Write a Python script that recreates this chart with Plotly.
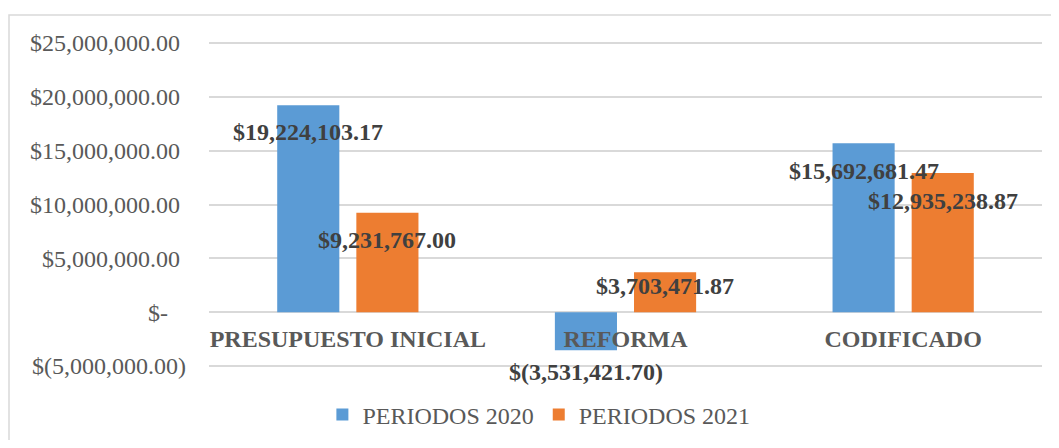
import plotly.graph_objects as go

categories = ["PRESUPUESTO INICIAL", "REFORMA", "CODIFICADO"]
series_names = ["PERIODOS 2020", "PERIODOS 2021"]
values_2020 = [19224103.17, -3531421.70, 15692681.47]
values_2021 = [9231767.00, 3703471.87, 12935238.87]
labels_2020 = ["$19,224,103.17", "$(3,531,421.70)", "$15,692,681.47"]
labels_2021 = ["$9,231,767.00", "$3,703,471.87", "$12,935,238.87"]
tick_vals = [-5000000, 0, 5000000, 10000000, 15000000, 20000000, 25000000]
tick_text = ["$(5,000,000.00)", "$-\u00a0\u00a0\u00a0", "$5,000,000.00\u00a0", "$10,000,000.00\u00a0",
             "$15,000,000.00\u00a0", "$20,000,000.00\u00a0", "$25,000,000.00\u00a0"]

colors = ["#5B9BD5", "#ED7D31"]
FONT = "Liberation Serif, Times New Roman, serif"
FS = 24
ymin, ymax = -5000000, 25000000
bargap = 0.43
bargroupgap = 0.215

# figure is placed with the page's 8px body margin; size accordingly
W, H = 1043, 432
L, R, T, B = 201, 9, 33, 72
plot_h = H - T - B
plot_w = W - L - R
pad = (ymax - ymin) * 2 / (plot_h - 4)
lo, hi = ymin - pad, ymax + pad

fig = go.Figure()
for name, vals, col in zip(series_names, [values_2020, values_2021], colors):
    fig.add_trace(go.Bar(x=categories, y=vals, name=name, marker_color=col,
                         marker_line_width=0))

# data labels (placed near bar ends like the original)
slot = (1 - bargap) / 2
label_shift = {  # pixel offsets from bar end
    (0, 0): -27, (0, 1): -22, (0, 2): -28,
    (1, 0): -27, (1, 1): -14, (1, 2): -28,
}
for s, (vals, labs) in enumerate([(values_2020, labels_2020), (values_2021, labels_2021)]):
    for i, (v, lab) in enumerate(zip(vals, labs)):
        fig.add_annotation(x=i + (s - 0.5) * slot, y=v, xref="x", yref="y",
                           text="<b>" + lab + "</b>", showarrow=False,
                           yshift=label_shift[(s, i)], xanchor="center", yanchor="middle",
                           font=dict(family=FONT, size=FS, color="#404040"))

fig.update_layout(
    width=W, height=H, autosize=False,
    margin=dict(l=L, r=R, t=T, b=B, autoexpand=False),
    paper_bgcolor="white", plot_bgcolor="white",
    barmode="group", bargap=bargap, bargroupgap=bargroupgap,
    font=dict(family=FONT, size=FS, color="#595959"),
    showlegend=True,
    legend=dict(orientation="h", xref="container", yref="container",
                x=0.509, xanchor="center", y=0.058, yanchor="middle",
                font=dict(family=FONT, size=FS, color="#595959"),
                itemwidth=30, bgcolor="rgba(0,0,0,0)"),
    xaxis=dict(type="category", anchor="free", position=(0 - lo) / (hi - lo),
               automargin=False,
               showline=False, showgrid=False, zeroline=False,
               ticks="", ticklabelstandoff=10,
               tickfont=dict(family=FONT, size=FS, color="#595959"),
               tickvals=categories,
               ticktext=["<b>" + c + "</b>" for c in categories],
               range=[-0.5, len(categories) - 0.5]),
    yaxis=dict(range=[lo, hi], tickvals=tick_vals, ticktext=tick_text,
               automargin=False,
               showgrid=True, gridcolor="#D9D9D9", gridwidth=1.5,
               zeroline=True, zerolinecolor="#D9D9D9", zerolinewidth=1.5,
               showline=False, ticks="", ticklabelstandoff=22,
               tickfont=dict(family=FONT, size=FS, color="#595959")),
    shapes=[dict(type="rect", xref="paper", yref="paper",
                 x0=(1 - L) / plot_w, x1=1.2, y0=-0.5, y1=(T + plot_h - 7) / plot_h,
                 line=dict(color="#D9D9D9", width=1.5), fillcolor="rgba(0,0,0,0)",
                 layer="below")],
)

fig.write_html("out.html")
